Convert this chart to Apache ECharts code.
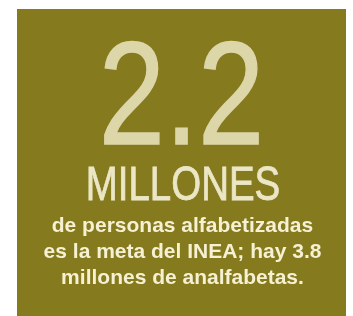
<!DOCTYPE html>
<html><head><meta charset="utf-8">
<script src="https://cdn.jsdelivr.net/npm/echarts@6/dist/echarts.min.js"></script>
<style>html,body{margin:0;padding:0;background:#fff}#c{width:353px;height:316px}</style>
</head><body><div id="c"></div>
<script>
const bigValue = ["2.2"];
const unitLabel = ["MILLONES"];
const descLines = ["de personas alfabetizadas", "es la meta del INEA; hay 3.8", "millones de analfabetas."];

const chart = echarts.init(document.getElementById('c'), null, {renderer:'canvas'});
const elems = [
  {type:'rect', shape:{x:17, y:9, width:329, height:320}, style:{fill:'#867a1f'}},
  {type:'text', x:181.5, y:103, scaleX:0.81, style:{text:bigValue[0], font:'147px "Liberation Sans"', fill:'#dcd6a9', stroke:'#dcd6a9', lineWidth:1.5, align:'center', verticalAlign:'middle'}},
  {type:'text', x:183, y:186, scaleX:0.785, style:{text:unitLabel[0], font:'49px "Liberation Sans"', fill:'#ebe7c6', stroke:'#ebe7c6', lineWidth:0.8, align:'center', verticalAlign:'middle'}}
];
descLines.forEach((t,i)=>{
  elems.push({type:'text', x:182.5, y:226.5+i*26, style:{text:t, font:'bold 21px "Liberation Sans"', fill:'#f5f1d2', align:'center', verticalAlign:'middle'}});
});
chart.setOption({graphic:{elements:elems}});
</script></body></html>
